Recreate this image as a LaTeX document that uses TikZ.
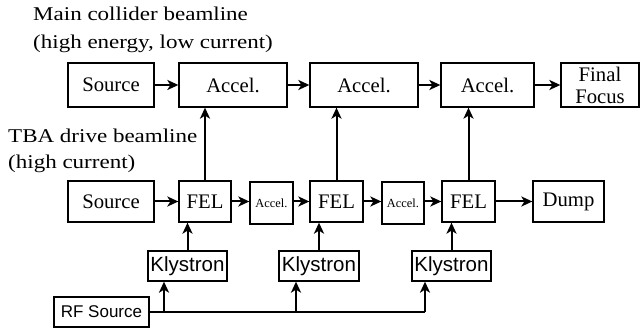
\documentclass[tikz,border=0pt]{standalone}
\usepackage{fontspec}
\setmainfont{Liberation Serif}
\newfontfamily\klyfont{Liberation Sans}
\newfontfamily\labelfont{Liberation Serif}[FakeStretch=1.18]
\usetikzlibrary{arrows.meta, positioning}

\begin{document}
\begin{tikzpicture}[x=1pt, y=-1pt,
  blk/.style={draw, line width=1.3pt, inner sep=0pt, minimum height=44pt,
    align=center, font=\fontsize{20.7}{22}\selectfont},
  smallblk/.style={blk, minimum height=42pt, font=\fontsize{12.4}{13}\selectfont},
  klyblk/.style={blk, minimum height=30pt, font=\klyfont\fontsize{20.5}{22}\selectfont},
  rfblk/.style={klyblk, font=\klyfont\fontsize{17}{19}\selectfont},
  lbl/.style={anchor=base west, inner sep=0pt, font=\labelfont\fontsize{19.5}{22}\selectfont},
  beam/.style={line width=2pt, -{Stealth[length=11pt, width=10pt, inset=3pt]}},
  bus/.style={line width=2pt}]
\useasboundingbox (0,0) rectangle (640,328);

% main collider beamline
\node[lbl] (mainlbl) at (33,21) {Main collider beamline};
\node[lbl] (mainsub) at (33,49) {(high energy, low current)};
\node[blk, minimum width=86pt] (src1) at (111,85) {Source};
\node[blk, minimum width=108pt] (acc1) at (233,85) {Accel.};
\node[blk, minimum width=108pt] (acc2) at (364,85) {Accel.};
\node[blk, minimum width=93pt] (acc3) at (487.5,85) {Accel.};
\node[blk, minimum width=78pt] (ff) at (600,85) {Final\\Focus};

% TBA drive beamline
\node[lbl] (tbalbl) at (8,143) {TBA drive beamline};
\node[lbl] (tbasub) at (8,169) {(high current)};
\node[blk, minimum width=86pt, minimum height=41pt] (src2) at (111,201.5) {Source};
\node[blk, minimum width=52pt, minimum height=41pt] (fel1) at (205,201.5) {FEL};
\node[smallblk, minimum width=43pt] (sacc1) at (271.5,203) {Accel.};
\node[blk, minimum width=53pt, minimum height=41pt] (fel2) at (336.5,201.5) {FEL};
\node[smallblk, minimum width=42pt] (sacc2) at (403,203) {Accel.};
\node[blk, minimum width=53pt, minimum height=41pt] (fel3) at (468.5,201.5) {FEL};
\node[blk, minimum width=71pt, minimum height=41pt] (dump) at (568.5,201.5) {Dump};

% RF power
\node[klyblk, minimum width=79pt] (kly1) at (187.5,266) {Klystron};
\node[klyblk, minimum width=80pt] (kly2) at (319,266) {Klystron};
\node[klyblk, minimum width=79pt] (kly3) at (451.5,266) {Klystron};
\node[rfblk, minimum width=95pt] (rf) at (101.5,312) {RF Source};

\draw[beam] (src1) -- (acc1);
\draw[beam] (acc1) -- (acc2);
\draw[beam] (acc2) -- (acc3);
\draw[beam] (acc3) -- (ff);

\draw[beam] (src2) -- (fel1);
\draw[beam] (fel1) -- (fel1 -| sacc1.west);
\draw[beam] (sacc1.east |- fel2) -- (fel2);
\draw[beam] (fel2) -- (fel2 -| sacc2.west);
\draw[beam] (sacc2.east |- fel3) -- (fel3);
\draw[beam] (fel3) -- (dump);

\draw[beam] (fel1.north) -- (fel1.north |- acc1.south);
\draw[beam] (fel2.north) -- (fel2.north |- acc2.south);
\draw[beam] (fel3.north) -- (fel3.north |- acc3.south);

\draw[beam] (kly1) -- (kly1 |- fel1.south);
\draw[beam] (kly2) -- (kly2 |- fel2.south);
\draw[beam] (kly3) -- (kly3 |- fel3.south);

\coordinate (tap1) at (164,312);
\coordinate (tap2) at (296,312);
\coordinate (tap3) at (425,312);
\draw[bus] (rf.east) -- (tap3);
\draw[beam] (tap1) -- (tap1 |- kly1.south);
\draw[beam] (tap2) -- (tap2 |- kly2.south);
\draw[beam] (tap3) -- (tap3 |- kly3.south);
\end{tikzpicture}
\end{document}
